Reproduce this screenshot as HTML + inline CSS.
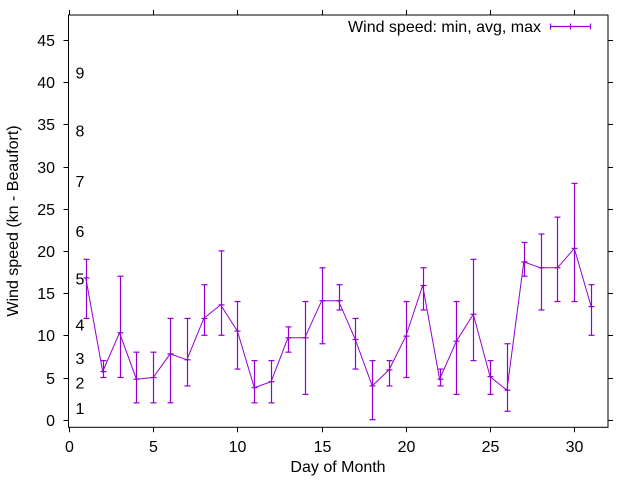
<!DOCTYPE html>
<html><head><meta charset="utf-8"><style>
html,body{margin:0;padding:0;background:#fff;}
svg{display:block;font-family:"Liberation Sans",sans-serif;}
</style></head><body>
<svg id="chart" width="640" height="480" viewBox="0 0 640 480"></svg>
<script>
const days = [1,2,3,4,5,6,7,8,9,10,11,12,13,14,15,16,17,18,19,20,21,22,23,24,25,26,27,28,29,30,31];
const avgSpeed = [16.8,5.7,10.3,4.8,5.0,7.8,7.1,12.0,13.6,10.5,3.8,4.5,9.7,9.7,14.1,14.1,9.5,4.0,5.9,9.9,15.9,4.8,9.3,12.5,5.1,3.5,18.7,18.0,18.0,20.3,13.4];
const minSpeed = [12,5,5,2,2,2,4,10,10,6,2,2,8,3,9,13,6,0,4,5,13,4,3,7,3,1,17,13,14,14,10];
const maxSpeed = [19,7,17,8,8,12,12,16,20,14,7,7,11,14,18,16,12,7,7,14,18,6,14,19,7,9,21,22,24,28,16];
const xTicks = [0,5,10,15,20,25,30];
const yTicks = [0,5,10,15,20,25,30,35,40,45];
const beaufortLabels = ["1","2","3","4","5","6","7","8","9"];
const beaufortY = [1.34,4.32,7.27,11.2,16.7,22.3,28.2,34.2,41.1];

const NS="http://www.w3.org/2000/svg";
const svg=document.getElementById('chart');
const L=68.5,R=608,T=15,B=427.3;
const X0=69,XS=(608-69)/32;
const Y0=419.7,YS=8.44;
const FS='16';
function sx(v){return X0+v*XS;}
function sy(v){return Y0-v*YS;}
function mk(tag,attrs,parent){const e=document.createElementNS(NS,tag);for(const k in attrs)e.setAttribute(k,attrs[k]);(parent||svg).appendChild(e);return e;}
const C="#9400d3";

const frame=mk('rect',{x:L,y:T,width:R-L,height:B-T,fill:'none',stroke:'#000','stroke-width':1});



xTicks.forEach(v=>{
  const g=mk('g',{});
  
  
  const x=Math.round(sx(v))+0.5;
  mk('line',{x1:x,x2:x,y1:B,y2:B+5,stroke:'#000'},g);
  mk('line',{x1:x,x2:x,y1:T,y2:T-5,stroke:'#000'},g);
  const t=mk('text',{x:x,y:452,'text-anchor':'middle','font-size':FS},g);
  t.textContent=v;
});
yTicks.forEach(v=>{
  const g=mk('g',{});
  
  
  const y=Math.round(sy(v))+0.5;
  mk('line',{x1:L-5,x2:L,y1:y,y2:y,stroke:'#000'},g);
  mk('line',{x1:R,x2:R+5,y1:y,y2:y,stroke:'#000'},g);
  const t=mk('text',{x:55,y:y+5.5,'text-anchor':'end','font-size':FS},g);
  t.textContent=v;
});
beaufortLabels.forEach((s,i)=>{
  const t=mk('text',{x:80,y:sy(beaufortY[i])+5.5,'text-anchor':'middle','font-size':FS});
  
  
  t.textContent=s;
});
const xt=mk('text',{x:338,y:472,'text-anchor':'middle','font-size':FS});


xt.textContent='Day of Month';
const yt=mk('text',{x:0,y:0,'text-anchor':'middle','font-size':FS,transform:'translate(18,221) rotate(-90)'});


yt.textContent='Wind speed (kn - Beaufort)';

const pts=days.map((d,i)=>sx(d).toFixed(1)+','+sy(avgSpeed[i]).toFixed(1)).join(' ');
const pl=mk('polyline',{points:pts,fill:'none',stroke:C,'stroke-width':1});


days.forEach((d,i)=>{
  const g=mk('g',{stroke:C,'stroke-width':1.2});
  
  
  const x=Math.round(sx(d))+0.5;
  mk('line',{x1:x,x2:x,y1:sy(minSpeed[i]),y2:sy(maxSpeed[i])},g);
  mk('line',{x1:x-3,x2:x+3,y1:sy(minSpeed[i]),y2:sy(minSpeed[i])},g);
  mk('line',{x1:x-3,x2:x+3,y1:sy(maxSpeed[i]),y2:sy(maxSpeed[i])},g);
  mk('line',{x1:x-3,x2:x+3,y1:sy(avgSpeed[i]),y2:sy(avgSpeed[i])},g);
});

const lg=mk('g',{});


const lt=mk('text',{x:541,y:32,'text-anchor':'end','font-size':FS},lg);
lt.textContent='Wind speed: min, avg, max';
mk('line',{x1:550,x2:591,y1:26.5,y2:26.5,stroke:C,'stroke-width':1.2},lg);
[550.5,570.5,590.5].forEach(x=>mk('line',{x1:x,x2:x,y1:23.5,y2:29.5,stroke:C,'stroke-width':1.2},lg));
</script>
</body></html>
